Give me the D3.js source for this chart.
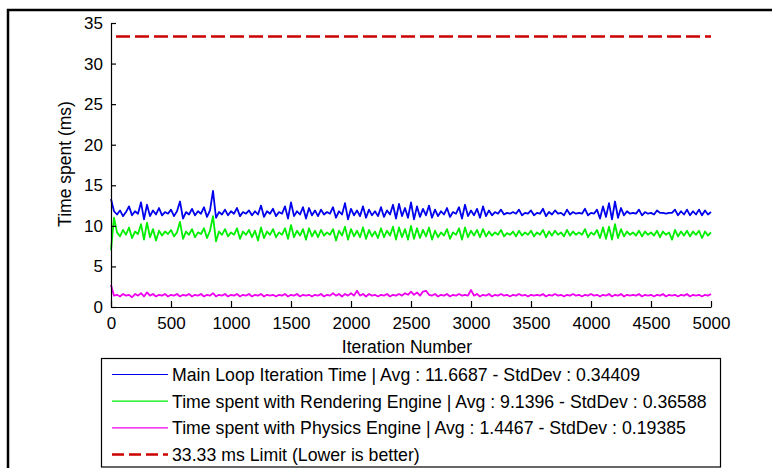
<!DOCTYPE html>
<html><head><meta charset="utf-8">
<script src="https://cdn.jsdelivr.net/npm/d3@7"></script>
<style>body{margin:0;background:#fff}svg{display:block}text{font-family:"Liberation Sans",Arial,sans-serif}</style>
</head><body><svg id="c" width="772" height="468"></svg>
<script>
const iterStep = 25;
const xTicks = [0,500,1000,1500,2000,2500,3000,3500,4000,4500,5000];
const yTicks = [0,5,10,15,20,25,30,35];
const limitValue = 33.33;
const seriesNames = [
  "Main Loop Iteration Time | Avg : 11.6687 - StdDev : 0.34409",
  "Time spent with Rendering Engine | Avg : 9.1396 - StdDev : 0.36588",
  "Time spent with Physics Engine | Avg : 1.4467 - StdDev : 0.19385",
  "33.33 ms Limit (Lower is better)"
];
const seriesColors = ["#0000ee","#00ee00","#ee00ee","#cc0000"];
const mainLoop = [
13.3,11.8,11.4,11.9,11.2,11.7,12.4,11.3,11.8,11.5,12.9,10.8,12.6,11.2,11.9,11.4,12.2,11.3,11.7,11.5,12.0,11.2,11.8,13.0,10.9,
11.7,11.4,12.1,11.3,11.8,11.5,12.3,11.1,11.9,14.3,11.0,11.7,11.4,12.0,11.3,11.8,11.5,12.2,11.2,11.7,11.5,11.9,11.3,11.8,11.4,
12.5,11.1,11.8,11.5,12.1,11.2,11.7,11.5,12.4,10.9,12.9,11.2,11.8,11.4,12.3,10.9,12.2,11.3,11.9,11.2,12.0,11.4,11.7,11.5,12.3,
11.0,11.8,11.4,12.8,10.8,12.1,11.3,11.9,11.2,12.4,11.0,12.0,11.3,11.8,11.2,12.3,11.1,11.9,11.4,12.6,10.9,12.7,11.2,12.2,11.0,
12.9,10.8,12.4,11.1,12.1,11.3,12.5,11.0,12.0,11.2,11.8,11.4,12.2,11.1,11.7,11.5,12.3,10.9,12.6,11.2,11.9,11.3,12.1,11.0,12.4,
11.2,11.9,11.3,11.7,11.5,12.0,11.4,11.6,11.5,11.7,11.5,12.0,11.3,11.6,11.5,11.9,11.3,11.6,11.5,12.1,11.2,11.7,11.4,11.9,11.5,
11.6,11.3,12.0,11.4,11.7,11.5,11.6,11.5,12.1,11.3,11.6,11.5,12.0,10.9,12.4,11.1,12.8,10.8,13.0,11.0,12.2,11.3,11.8,11.5,11.6,
11.5,12.0,11.3,11.7,11.5,11.6,11.4,11.9,11.6,11.6,11.5,11.6,11.6,12.0,11.3,11.8,11.4,12.0,11.3,11.8,11.4,12.0,11.3,11.9,11.4,
11.7];
const rendering = [
7.0,11.0,9.2,8.7,9.5,8.9,9.8,8.5,9.3,9.0,10.2,8.3,10.4,8.6,9.6,8.2,9.4,8.8,9.3,9.0,9.5,8.7,9.2,10.5,8.4,
9.3,8.9,9.6,8.6,9.2,9.0,9.7,8.5,9.4,11.2,8.1,9.3,8.9,9.6,8.7,9.2,8.9,9.7,8.4,9.3,8.9,9.5,8.6,9.4,8.2,
9.8,8.5,9.3,8.9,9.6,8.6,9.2,8.9,9.7,8.4,10.1,8.6,9.4,8.8,9.6,8.3,9.7,8.7,9.4,8.6,9.5,8.8,9.2,8.9,9.6,
8.2,9.4,8.8,9.9,8.3,9.6,8.7,9.4,8.6,9.8,8.4,9.5,8.7,9.3,8.5,9.7,8.6,9.4,8.8,9.9,8.3,9.8,8.6,9.6,8.3,
10.0,8.4,9.7,8.5,9.5,8.7,9.8,8.3,9.4,8.6,9.2,8.8,9.6,8.4,9.2,8.9,9.7,8.3,9.8,8.6,9.4,8.8,9.5,8.6,9.6,
8.7,9.3,8.8,9.2,8.9,9.5,8.7,9.1,8.9,9.3,8.7,9.4,8.8,9.2,8.9,9.4,8.7,9.2,8.9,9.5,8.6,9.3,8.8,9.4,8.9,
9.2,8.7,9.5,8.8,9.3,8.9,9.2,8.9,9.6,8.6,9.2,8.9,9.5,8.5,9.8,8.4,9.9,8.3,10.2,8.5,9.6,8.7,9.3,8.9,9.2,
8.8,9.4,8.7,9.3,8.9,9.2,8.8,9.4,8.6,9.3,8.9,9.2,8.3,9.5,8.7,9.3,8.8,9.4,8.7,9.3,8.9,9.4,8.5,9.3,8.8,
9.2];
const physics = [
2.7,1.4,1.5,1.3,1.6,1.4,1.5,1.2,1.6,1.4,1.7,1.3,1.8,1.4,1.6,1.3,1.5,1.4,1.6,1.3,1.5,1.4,1.6,1.3,1.5,
1.4,1.6,1.3,1.5,1.4,1.6,1.3,1.5,1.4,1.7,1.3,1.5,1.4,1.6,1.3,1.5,1.4,1.6,1.3,1.5,1.4,1.6,1.3,1.5,1.4,
1.6,1.3,1.5,1.4,1.5,1.3,1.5,1.4,1.6,1.3,1.5,1.4,1.6,1.3,1.5,1.4,1.5,1.3,1.5,1.4,1.6,1.3,1.5,1.4,1.7,
1.4,1.6,1.3,1.6,1.4,1.7,1.4,2.0,1.4,1.6,1.3,1.6,1.4,1.5,1.3,1.5,1.4,1.6,1.3,1.5,1.4,1.6,1.4,1.7,1.5,
1.9,1.5,1.8,1.4,1.9,2.0,1.5,1.4,1.6,1.3,1.5,1.4,1.6,1.3,1.5,1.4,1.6,1.4,1.5,1.4,2.1,1.4,1.6,1.3,1.5,
1.4,1.6,1.3,1.5,1.4,1.6,1.4,1.5,1.3,1.5,1.4,1.6,1.4,1.5,1.3,1.5,1.4,1.5,1.4,1.6,1.3,1.5,1.4,1.6,1.4,
1.5,1.3,1.5,1.4,1.6,1.4,1.5,1.3,1.5,1.4,1.6,1.4,1.5,1.3,1.5,1.4,1.6,1.3,1.5,1.4,1.6,1.3,1.5,1.4,1.5,
1.4,1.6,1.3,1.5,1.4,1.5,1.3,1.5,1.4,1.6,1.3,1.5,1.4,1.5,1.3,1.5,1.4,1.6,1.3,1.5,1.4,1.5,1.3,1.5,1.4,
1.6];

const svg = d3.select("#c");
const x = d3.scaleLinear().domain([0,5000]).range([111,711]);
const y = d3.scaleLinear().domain([0,35]).range([307,23]);

// outer frame
svg.append("rect").attr("x",8).attr("y",10).attr("width",800).attr("height",500)
  .attr("fill","none").attr("stroke","#000").attr("stroke-width",2.5);

// series lines
const line = d3.line().x((d,i)=>x(i*iterStep)).y(d=>y(d));
[mainLoop, rendering, physics].forEach((arr,k)=>{
  svg.append("path").datum(arr).attr("d",line).attr("fill","none")
    .attr("stroke",seriesColors[k]).attr("stroke-width",1.8).attr("stroke-linejoin","round");
});
// limit line
svg.append("line").attr("x1",x(0)+5).attr("x2",x(5000)).attr("y1",y(limitValue)).attr("y2",y(limitValue))
  .attr("stroke",seriesColors[3]).attr("stroke-width",2.5).attr("stroke-dasharray","14,5");

// axes
const xAxis = d3.axisBottom(x).tickValues(xTicks).tickFormat(d3.format("d")).tickSizeInner(-6).tickSizeOuter(0).tickPadding(10);
const yAxis = d3.axisLeft(y).tickValues(yTicks).tickFormat(d3.format("d")).tickSizeInner(-5).tickSizeOuter(0).tickPadding(8);
const gx = svg.append("g").attr("transform","translate(0,307)").call(xAxis);
const gy = svg.append("g").attr("transform","translate(111,0)").call(yAxis);
[gx,gy].forEach(g=>{
  g.selectAll("path,line").attr("stroke","#000").attr("stroke-width",1.2);
  g.selectAll("text").attr("font-size",17).attr("fill","#000").attr("font-family","'Liberation Sans',Arial,sans-serif");
});

svg.append("text").attr("x",407).attr("y",353).attr("text-anchor","middle").attr("font-size",17.5).text("Iteration Number");
svg.append("text").attr("transform","translate(71,164) rotate(-90)").attr("text-anchor","middle").attr("font-size",17.5).text("Time spent (ms)");

// legend
svg.append("rect").attr("x",101.5).attr("y",358.5).attr("width",619).attr("height",108.5)
  .attr("fill","#fff").attr("stroke","#000").attr("stroke-width",1.2);
seriesNames.forEach((name,i)=>{
  const cy = 374.5 + i*26.7;
  svg.append("line").attr("x1",112).attr("x2",168).attr("y1",cy).attr("y2",cy)
    .attr("stroke",seriesColors[i]).attr("stroke-width",i===3?2.5:1.2)
    .attr("stroke-dasharray",i===3?"12,5":null);
  svg.append("text").attr("x",172).attr("y",cy).attr("dy","0.36em").attr("font-size",17.7).text(name);
});
</script></body></html>
